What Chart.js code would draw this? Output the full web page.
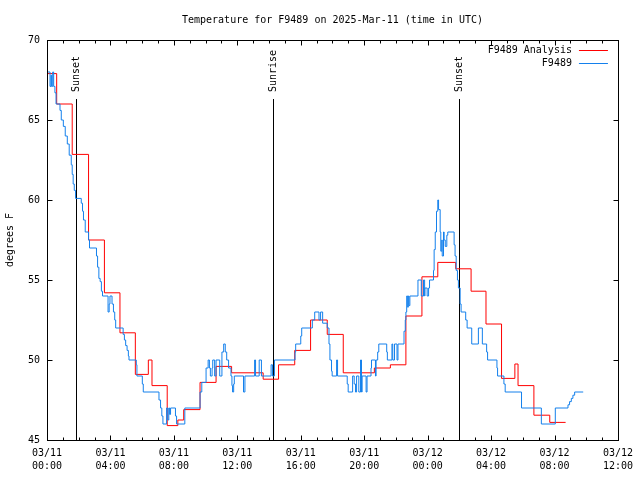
<!DOCTYPE html>
<html>
<head>
<meta charset="utf-8">
<script src="https://cdn.jsdelivr.net/npm/chart.js@4"></script>
<style>
  body { margin: 0; background: #fff; }
  #tempChart { display: block; }
</style>
</head>
<body>
<canvas id="tempChart" width="640" height="480"></canvas>
<script>
const chartTitle = "Temperature for F9489 on 2025-Mar-11 (time in UTC)";

// x tick labels, one every 4 hours from 03/11 00:00 UTC
const tickDates = ["03/11", "03/11", "03/11", "03/11", "03/11", "03/11", "03/12", "03/12", "03/12", "03/12"];
const tickTimes = ["00:00", "04:00", "08:00", "12:00", "16:00", "20:00", "00:00", "04:00", "08:00", "12:00"];
const yTicks = [45, 50, 55, 60, 65, 70];

// hourly analysis (hours since 03/11 00:00 UTC, deg F)
const analysisHours = [0, 0.61, 1.59, 2.62, 3.62, 4.6, 5.57, 6.39, 6.62, 7.58, 8.25, 8.62, 9.65, 10.66, 11.64,
  13.63, 14.6, 15.62, 16.62, 17.67, 18.68, 20.64, 21.65, 22.63, 23.64, 24.64, 25.77, 26.74, 27.68, 28.66,
  29.5, 29.7, 30.7, 31.7, 32.7];
const analysisTemps = [67.9, 66.0, 62.85, 57.5, 54.2, 51.7, 49.1, 50.0, 48.4, 45.9, 46.25, 46.9, 48.6, 49.6, 49.2,
  48.8, 49.7, 50.6, 52.5, 51.6, 49.2, 49.5, 49.7, 52.75, 55.2, 56.1, 55.7, 54.3, 52.25, 48.85,
  49.75, 48.4, 46.55, 46.1, 46.1];

// station observations
const obsHours = [0, 0.19, 0.25, 0.29, 0.36, 0.42, 0.5, 0.57, 0.82, 0.9, 1.03, 1.15, 1.28, 1.4, 1.53, 1.59, 1.65,
  1.72, 1.8, 2.16, 2.24, 2.3, 2.41, 2.62, 2.68, 3.12, 3.19, 3.27, 3.35, 3.43, 3.5, 3.85, 3.92, 3.97, 4.1, 4.19,
  4.27, 4.33, 4.8, 4.88, 4.96, 5.05, 5.13, 5.17, 5.63, 5.67, 6.01, 6.07, 7.06, 7.16, 7.24, 7.31, 7.54, 7.62,
  7.68, 7.73, 7.79, 8.1, 8.17, 8.69, 9.65, 9.76, 10.03, 10.16, 10.24, 10.3, 10.41, 10.45, 10.57, 10.66, 10.89,
  11.03, 11.14, 11.24, 11.33, 11.45, 11.6, 11.66, 11.7, 11.77, 11.81, 12.39, 12.48, 13.09, 13.15, 13.38, 13.52,
  14.13, 14.22, 14.34, 15.64, 15.68, 16.0, 16.06, 16.73, 16.88, 17.15, 17.25, 17.38, 17.67, 17.78, 17.84, 17.94,
  17.98, 18.26, 18.32, 18.93, 18.99, 19.27, 19.37, 19.45, 19.52, 19.66, 19.77, 19.83, 19.87, 20.12, 20.18, 20.43,
  20.46, 20.71, 20.75, 20.85, 20.92, 21.42, 21.46, 21.75, 21.8, 21.91, 22.07, 22.13, 22.51, 22.59, 22.63, 22.68,
  22.74, 22.78, 22.82, 22.88, 23.39, 23.6, 23.74, 23.81, 23.83, 23.97, 24.06, 24.12, 24.37, 24.41, 24.48, 24.56,
  24.64, 24.69, 24.79, 24.83, 24.89, 24.92, 25.0, 25.04, 25.11, 25.21, 25.27, 25.67, 25.73, 25.8, 25.88, 25.94,
  26.05, 26.11, 26.4, 26.49, 26.78, 27.2, 27.45, 27.72, 27.78, 28.37, 28.41, 28.81, 28.89, 29.92, 31.17, 32.05,
  32.85, 32.95, 33.06, 33.16, 33.27, 33.81];
const obsTemps = [68.0, 67.1, 67.8, 67.1, 68.0, 67.1, 66.7, 66.0, 65.6, 65.0, 64.6, 64.0, 63.5, 62.8, 62.2, 61.6, 61.0,
  60.6, 60.1, 59.8, 59.3, 58.75, 58.0, 57.5, 57.0, 56.5, 55.8, 55.1, 54.9, 54.3, 54.0, 53.0, 53.5, 54.0, 53.5, 53.0,
  52.5, 52.0, 51.6, 51.25, 50.9, 50.6, 50.25, 50.0, 49.7, 49.0, 48.5, 48.0, 47.5, 47.0, 46.5, 46.0, 47.0, 46.25,
  47.0, 46.6, 47.0, 46.5, 46.0, 47.0, 48.0, 48.6, 49.5, 50.0, 49.5, 49.0, 49.5, 50.0, 49.0, 50.0, 49.0,
  50.5, 51.0, 50.5, 50.0, 49.5, 49.0, 48.4, 48.0, 48.5, 49.0, 48.0, 49.0, 50.0, 49.0, 50.0, 49.0,
  49.7, 49.0, 50.0, 50.5, 51.0, 51.5, 52.0, 52.5, 53.0, 52.5, 53.0, 52.3, 52.0, 51.0, 50.0, 49.3,
  49.0, 50.0, 49.0, 48.5, 48.0, 49.0, 48.5, 48.0, 49.0, 48.0, 50.0, 48.0, 49.0, 48.0, 49.0, 49.5,
  50.0, 49.0, 50.0, 50.5, 51.0, 50.5, 50.0, 51.0, 50.0, 51.0, 50.0, 51.0, 51.8, 52.5, 53.0, 54.0,
  53.3, 54.0, 53.4, 54.0, 55.0, 54.0, 55.0, 54.0, 54.5, 54.0, 54.5, 55.0, 55.6, 56.9, 58.0, 59.3,
  60.0, 59.4, 58.0, 56.8, 57.5, 56.5, 58.0, 57.5, 57.1, 57.8, 58.0, 57.2, 56.5, 55.6, 55.0, 54.5,
  53.5, 53.0, 52.5, 52.0, 51.0, 52.0, 51.0, 50.5, 50.0, 49.5, 49.0, 48.5, 48.0, 47.0, 46.0, 47.0,
  47.2, 47.4, 47.6, 47.8, 48.0, 48.0];

const sunEvents = ["Sunset", "Sunrise", "Sunset"];
const sunHours = [1.86, 14.22, 25.96];

const FONT = "DejaVu Sans Mono";
const font10 = { family: FONT, size: 10 };

// gnuplot style frame: title over the plot, inward ticks on all sides, sun lines, legend at top right
const gnuplotFrame = {
  id: "gnuplotFrame",
  beforeDatasetsDraw(chart) {
    const { ctx, chartArea: a, scales: { x } } = chart;
    ctx.save();
    ctx.strokeStyle = "#000";
    ctx.fillStyle = "#000";
    ctx.lineWidth = 1;
    ctx.font = `10px "${FONT}"`;

    ctx.textAlign = "center";
    ctx.textBaseline = "middle";
    ctx.fillText(chartTitle, (a.left + a.right) / 2, 20);

    const lineTop = a.top + 59;
    sunHours.forEach((h, i) => {
      const px = Math.round(x.getPixelForValue(h)) + 0.5;
      ctx.beginPath();
      ctx.moveTo(px, lineTop);
      ctx.lineTo(px, a.bottom);
      ctx.stroke();
      ctx.save();
      ctx.translate(px, lineTop - 7);
      ctx.rotate(-Math.PI / 2);
      ctx.textAlign = "left";
      ctx.textBaseline = "middle";
      ctx.fillText(sunEvents[i], 0, 0);
      ctx.restore();
    });
    ctx.restore();
  },
  afterDatasetsDraw(chart) {
    const { ctx, chartArea: a, scales: { x, y } } = chart;
    ctx.save();
    ctx.strokeStyle = "#000";
    ctx.lineWidth = 1;
    const L = Math.round(a.left) + 0.5, R = Math.round(a.right) + 0.5;
    const T = Math.round(a.top) + 0.5, B = Math.round(a.bottom) + 0.5;
    ctx.strokeRect(L, T, R - L, B - T);

    ctx.beginPath();
    for (let h = 0; h <= 36; h++) {
      const px = Math.round(x.getPixelForValue(h)) + 0.5;
      const len = h % 4 === 0 ? 5 : 3;
      ctx.moveTo(px, B); ctx.lineTo(px, B - len);
      ctx.moveTo(px, T); ctx.lineTo(px, T + len);
    }
    yTicks.forEach(v => {
      const py = Math.round(y.getPixelForValue(v)) + 0.5;
      ctx.moveTo(L, py); ctx.lineTo(L + 5, py);
      ctx.moveTo(R, py); ctx.lineTo(R - 5, py);
    });
    ctx.stroke();

    ctx.font = `10px "${FONT}"`;
    ctx.textAlign = "right";
    ctx.textBaseline = "middle";
    chart.data.datasets.forEach((ds, i) => {
      const ly = Math.round(a.top + 10 + i * 13) + 0.5;
      ctx.fillStyle = "#000";
      ctx.fillText(ds.label, a.right - 46, ly);
      ctx.strokeStyle = ds.borderColor;
      ctx.beginPath();
      ctx.moveTo(a.right - 39, ly);
      ctx.lineTo(a.right - 10, ly);
      ctx.stroke();
    });
    ctx.restore();
  }
};

new Chart(document.getElementById("tempChart"), {
  type: "line",
  data: {
    datasets: [
      {
        label: "F9489 Analysis",
        data: analysisHours.map((h, i) => ({ x: h, y: analysisTemps[i] })),
        borderColor: "#ff0000",
        borderWidth: 1,
        pointRadius: 0,
        stepped: "before",
        order: 1
      },
      {
        label: "F9489",
        data: obsHours.map((h, i) => ({ x: h, y: obsTemps[i] })),
        borderColor: "rgb(20, 128, 236)",
        borderWidth: 1,
        pointRadius: 0,
        stepped: "before",
        order: 0
      }
    ]
  },
  options: {
    responsive: false,
    animation: false,
    devicePixelRatio: 1,
    layout: { padding: { left: 0, right: 20, top: 40, bottom: 0 } },
    plugins: {
      legend: { display: false },
      tooltip: { enabled: false },
      title: { display: false }
    },
    scales: {
      x: {
        type: "linear",
        min: 0,
        max: 36,
        grid: { display: false, drawTicks: false },
        border: { display: false },
        ticks: {
          stepSize: 4,
          autoSkip: false,
          maxRotation: 0,
          padding: 7,
          color: "#000",
          font: { family: FONT, size: 10, lineHeight: 1.3 },
          callback: v => {
            const i = Math.round(v / 4);
            return [tickDates[i], tickTimes[i]];
          }
        },
        afterFit: s => { s.height = 40; }
      },
      y: {
        min: 45,
        max: 70,
        grid: { display: false, drawTicks: false },
        border: { display: false },
        ticks: {
          stepSize: 5,
          padding: 7,
          color: "#000",
          font: font10
        },
        title: {
          display: true,
          text: "degrees F",
          color: "#000",
          font: font10,
          padding: { top: 4, bottom: 0 }
        },
        afterFit: s => { s.width = 47; }
      }
    }
  },
  plugins: [gnuplotFrame]
});
</script>
</body>
</html>
